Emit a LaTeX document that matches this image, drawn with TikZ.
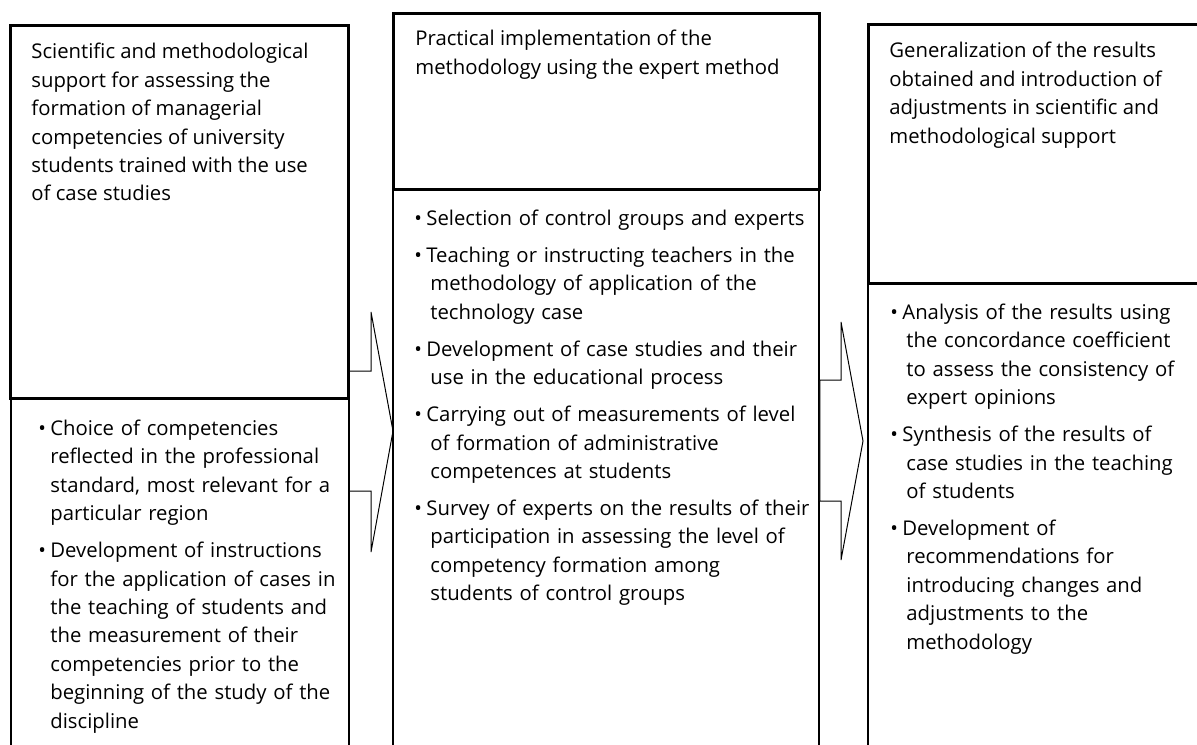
\documentclass[tikz,border=0pt]{standalone}
\usepackage{fontspec}
\setmainfont{Open Sans}
\usetikzlibrary{fit}

\newcommand{\stagefont}{\fontsize{10.15pt}{14.2pt}\selectfont}
% bullet item: bullet box width, hanging indent, text
\newcommand{\pitem}[3]{\par\hangindent=#2\hangafter=1\noindent\makebox[#1][l]{\textbullet}#3\par}

\begin{document}
\begin{tikzpicture}[x=0.5pt, y=-0.5pt,
    headbox/.style={draw, line width=1.5pt, inner sep=0pt},
    bodybox/.style={draw, line width=0.75pt, inner sep=0pt},
    headtext/.style={anchor=north west, inner sep=0pt, align=left, font=\stagefont},
    listtext/.style={headtext, text width=#1,
      execute at begin node={\setlength{\parskip}{4.3pt}}},
    blockarrow/.style={draw, fill=white, line width=0.5pt, line join=miter}]
  \clip (0,0) rectangle (1197,744);

  % first arrow, under the frames
  \coordinate (tipa) at (393,431);
  \draw[blockarrow] (348,371) -- (371,371) -- (371,312) -- (tipa)
    -- (371,552) -- (371,491) -- (348,491);

  % column frames
  \node[bodybox, fit={(11,398) (349,760)}] (lbody) {};
  \node[headbox, fit={(10,25) (348,398)}] (lhead) {};
  \node[bodybox, fit={(393,189) (819,760)}] (mbody) {};
  \node[headbox, fit={(393,13) (819,189)}] (mhead) {};
  \node[bodybox, fit={(868,283) (1210,760)}] (rbody) {};
  \node[headbox, fit={(868,24) (1210,283)}] (rhead) {};

  % second arrow, over the middle frame
  \coordinate (tipb) at (863,441);
  \draw[blockarrow] (mbody.east |- 0,380) -- (841,380) -- (841,322) -- (tipb)
    -- (841,560) -- (841,501) -- (mbody.east |- 0,501) -- cycle;

  % headings
  \node[headtext] (ltitle) at (31,43) {Scientific and methodological\\
    support for assessing the\\ formation of managerial\\
    competencies of university\\ students trained with the use\\ of case studies};
  \node[headtext] (mtitle) at (415,30) {Practical implementation of the\\
    methodology using the expert method};
  \node[headtext] (rtitle) at (889,42) {Generalization of the results\\
    obtained and introduction of\\ adjustments in scientific and\\
    methodological support};

  % task lists
  \node[listtext=152pt] (llist) at (38,398) {%
    \pitem{6pt}{6pt}{Choice of competencies\newline reflected in the professional\newline
      standard, most relevant for a\newline particular region}
    \pitem{6pt}{6pt}{Development of instructions\newline for the application of cases in\newline
      the teaching of students and\newline the measurement of their\newline
      competencies prior to the\newline beginning of the study of the\newline discipline}};
  \node[listtext=200pt] (mlist) at (414,188) {%
    \pitem{6pt}{8pt}{Selection of control groups and experts}
    \pitem{6pt}{8pt}{Teaching or instructing teachers in the\newline
      methodology of application of the\newline technology case}
    \pitem{6pt}{8pt}{Development of case studies and their\newline
      use in the educational process}
    \pitem{6pt}{8pt}{Carrying out of measurements of level\newline
      of formation of administrative\newline competences at students}
    \pitem{6pt}{8pt}{Survey of experts on the results of their\newline
      participation in assessing the level of\newline
      competency formation among\newline students of control groups}};
  \node[listtext=150pt] (rlist) at (890,282) {%
    \pitem{6pt}{8pt}{Analysis of the results using\newline
      the concordance coefficient\newline to assess the consistency of\newline expert opinions}
    \pitem{6pt}{8pt}{Synthesis of the results of\newline
      case studies in the teaching\newline of students}
    \pitem{6pt}{8pt}{Development of\newline recommendations for\newline
      introducing changes and\newline adjustments to the\newline methodology}};
\end{tikzpicture}
\end{document}
